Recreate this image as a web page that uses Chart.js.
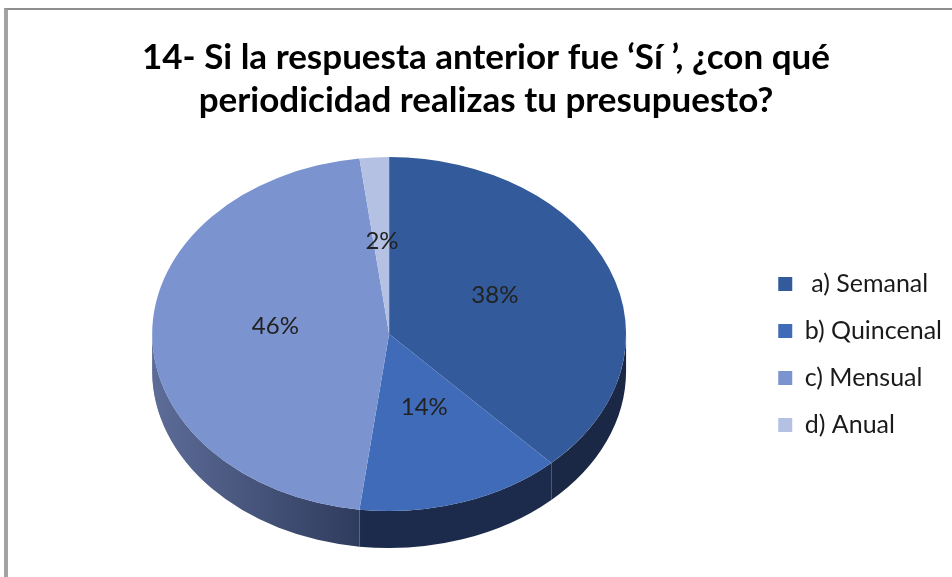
<!DOCTYPE html>
<html>
<head>
<meta charset="utf-8">
<script src="https://cdn.jsdelivr.net/npm/chart.js@4.4.0/dist/chart.umd.min.js"></script>
<style>
    html, body { margin: 0; padding: 0; background: #fff; }
    #marco { position: relative; width: 952px; height: 577px; overflow: hidden; }
    #borde { position: absolute; left: 4px; top: 8px; width: 980px; height: 600px;
             border-top: 2px solid #8e8e8e; border-left: 4px solid #a3a3a3; pointer-events: none; }
</style>
</head>
<body>
<div id="marco">
    <canvas id="graficoPeriodicidad" width="952" height="577"></canvas>
    <div id="borde"></div>
</div>
<script>
const categorias = [' a) Semanal', 'b) Quincenal', 'c) Mensual', 'd) Anual'];
const porcentajes = [38, 14, 46, 2];
const titulo = ['14- Si la respuesta anterior fue \u2018Sí \u2019, ¿con qué', 'periodicidad realizas tu presupuesto?'];

const colores = ['#335a9a', '#3f6bb9', '#7b94d0', '#b4c1e3'];
const coloresLado = ['#1a2846', '#1c2b4c', '#2e3a5c', '#5c6990'];

// simula el pastel 3D de Excel: aplasta el pastel y dibuja el canto
const pastel3d = {
    id: 'pastel3d',
    beforeDatasetsDraw(chart, args, opts) {
        const meta = chart.getDatasetMeta(0);
        const ctx = chart.ctx;
        const cx = meta.data[0].x, cy = meta.data[0].y, r = meta.data[0].outerRadius;
        ctx.save();
        ctx.translate(cx + opts.desplazX, cy + opts.desplazY);
        ctx.scale(opts.escalaX, opts.inclinacion);
        ctx.translate(-cx, -cy);
        const prof = opts.profundidad / opts.inclinacion;
        meta.data.forEach((arc, i) => {
            for (let k = -1; k <= 1; k++) {
                const ini = Math.max(arc.startAngle, k * 2 * Math.PI);
                const fin = Math.min(arc.endAngle, k * 2 * Math.PI + Math.PI);
                if (fin <= ini) continue;
                ctx.beginPath();
                ctx.arc(cx, cy, r, ini, fin);
                ctx.arc(cx, cy + prof, r, fin, ini, true);
                ctx.closePath();
                ctx.fillStyle = coloresLado[i];
                ctx.fill();
                const brillo = ctx.createLinearGradient(cx - r, 0, cx - 0.1 * r, 0);
                brillo.addColorStop(0, 'rgba(150, 170, 225, 0.45)');
                brillo.addColorStop(1, 'rgba(150, 170, 225, 0)');
                ctx.fillStyle = brillo;
                ctx.fill();
            }
        });
    },
    afterDatasetsDraw(chart, args, opts) {
        const ctx = chart.ctx;
        ctx.restore();
        const meta = chart.getDatasetMeta(0);
        ctx.save();
        ctx.font = '24px Lato';
        ctx.fillStyle = '#222';
        ctx.textAlign = 'center';
        ctx.textBaseline = 'middle';
        meta.data.forEach((arc, i) => {
            const medio = (arc.startAngle + arc.endAngle) / 2;
            const d = arc.outerRadius * 0.48;
            const x = arc.x + opts.desplazX + Math.cos(medio) * d * opts.escalaX;
            const y = arc.y + opts.desplazY + Math.sin(medio) * d * opts.inclinacion - 8;
            ctx.fillText(porcentajes[i] + '%', x, y);
        });
        ctx.restore();
    }
};

function dibujarGrafico() {
    const ctx = document.getElementById('graficoPeriodicidad').getContext('2d');
    new Chart(ctx, {
        type: 'pie',
        data: {
            labels: categorias,
            datasets: [{
                data: porcentajes,
                backgroundColor: colores,
                borderWidth: 0,
                clip: false
            }]
        },
        options: {
            responsive: false,
            animation: false,
            layout: {
                padding: { left: 20, right: 0, top: 0, bottom: 0 }
            },
            plugins: {
                title: {
                    display: true,
                    text: titulo,
                    color: '#000',
                    font: { family: 'Lato', size: 35, weight: 'bold', lineHeight: 1.23 },
                    padding: { top: 36, bottom: 4 }
                },
                legend: {
                    position: 'right',
                    fullSize: false,
                    title: {
                        display: true,
                        text: ' ',
                        font: { size: 5, lineHeight: 1 },
                        padding: { top: 0.5, bottom: 0.5 }
                    },
                    labels: {
                        boxWidth: 14,
                        boxHeight: 14,
                        padding: 22,
                        color: '#1a1a1a',
                        font: { family: 'Lato', size: 25 }
                    }
                },
                tooltip: { enabled: false },
                pastel3d: {
                    escalaX: 1.051,
                    inclinacion: 0.785,
                    desplazX: 1,
                    desplazY: -17.5,
                    profundidad: 37
                }
            }
        },
        plugins: [pastel3d]
    });
}

document.addEventListener('DOMContentLoaded', dibujarGrafico);
</script>
</body>
</html>
